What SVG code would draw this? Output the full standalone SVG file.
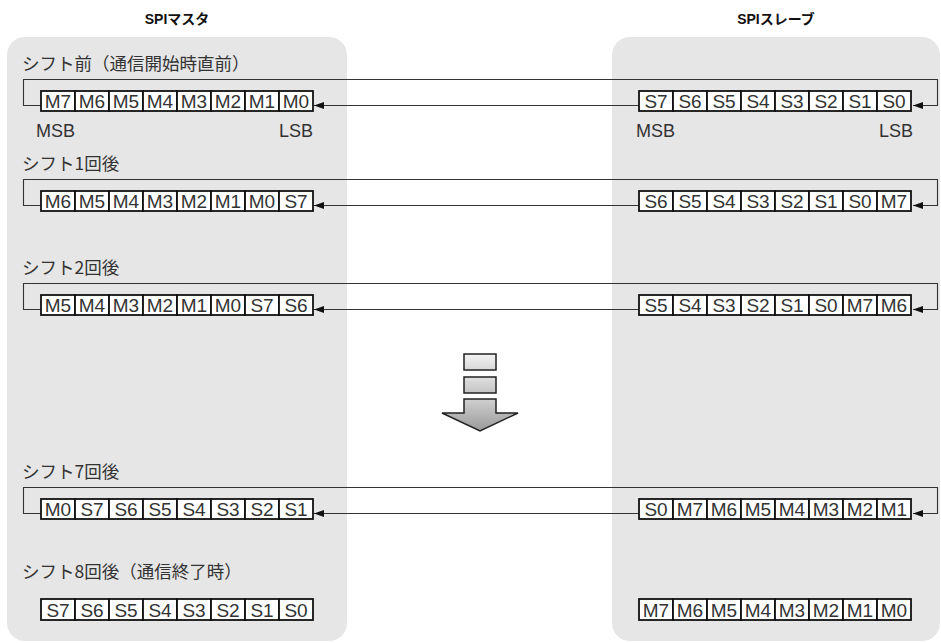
<svg xmlns="http://www.w3.org/2000/svg" width="941" height="643" viewBox="0 0 941 643">
<style>
.panel{fill:#e6e6e6}
.hdr{font-family:"Liberation Sans","Noto Sans CJK JP",sans-serif;font-size:14px;font-weight:bold;fill:#111;text-anchor:middle}
.ttl{font-family:"Noto Sans CJK JP","Liberation Sans",sans-serif;font-size:17.5px;fill:#333}
.cell{fill:#fff;stroke:#111;stroke-width:1.8}
.ct{font-family:"Liberation Sans",sans-serif;font-size:19px;fill:#333;text-anchor:middle}
.bit{font-family:"Liberation Sans",sans-serif;font-size:18px;fill:#333}
.conn{fill:none;stroke:#333;stroke-width:1.1}
.ar{stroke:#222;stroke-width:1.5}
</style>
<defs>
<marker id="ah" markerUnits="userSpaceOnUse" markerWidth="10" markerHeight="7" refX="10" refY="3.5" orient="auto"><path d="M0,0 L10,3.5 L0,7 z" fill="#111"/></marker>
<linearGradient id="g1" x1="0" y1="0" x2="0" y2="1"><stop offset="0" stop-color="#f4f4f4"/><stop offset="1" stop-color="#d8d8d8"/></linearGradient>
<linearGradient id="g2" x1="0" y1="0" x2="0" y2="1"><stop offset="0" stop-color="#e0e0e0"/><stop offset="1" stop-color="#c4c4c4"/></linearGradient>
<linearGradient id="g3" x1="0" y1="0" x2="0" y2="1"><stop offset="0" stop-color="#cfcfcf"/><stop offset="1" stop-color="#9a9a9a"/></linearGradient>
</defs>

<rect class="panel" x="7" y="37" width="340" height="604" rx="18"/>
<rect class="panel" x="612" y="37" width="328" height="604" rx="18"/>

<g id="hdr-master"><text class="hdr" x="177" y="24">SPIマスタ</text></g>
<g id="hdr-slave"><text class="hdr" x="776" y="24">SPIスレーブ</text></g>

<g id="title1"><text class="ttl" x="22" y="69.5">シフト前（通信開始時直前）</text></g>
<g id="title2"><text class="ttl" x="22" y="169.5">シフト1回後</text></g>
<g id="title3"><text class="ttl" x="22" y="273.5">シフト2回後</text></g>
<g id="title7"><text class="ttl" x="22" y="477.5">シフト7回後</text></g>
<g id="title8"><text class="ttl" x="22" y="577.5">シフト8回後（通信終了時）</text></g>

<g id="connectors">
<path class="conn" d="M639,105.5 H314" marker-end="url(#ah)"/>
<path class="conn" d="M41,105.5 H23.5 V79.5 H937.5 V105.5 H913" marker-end="url(#ah)"/>
<path class="conn" d="M639,205.5 H314" marker-end="url(#ah)"/>
<path class="conn" d="M41,205.5 H23.5 V179.5 H937.5 V205.5 H913" marker-end="url(#ah)"/>
<path class="conn" d="M639,309.5 H314" marker-end="url(#ah)"/>
<path class="conn" d="M41,309.5 H23.5 V283.5 H937.5 V309.5 H913" marker-end="url(#ah)"/>
<path class="conn" d="M639,513.5 H314" marker-end="url(#ah)"/>
<path class="conn" d="M41,513.5 H23.5 V487.5 H937.5 V513.5 H913" marker-end="url(#ah)"/>
</g>

<g id="master1" transform="translate(41,91)">
<rect class="cell" x="0" y="0" width="34" height="20"/><rect class="cell" x="34" y="0" width="34" height="20"/><rect class="cell" x="68" y="0" width="34" height="20"/><rect class="cell" x="102" y="0" width="34" height="20"/><rect class="cell" x="136" y="0" width="34" height="20"/><rect class="cell" x="170" y="0" width="34" height="20"/><rect class="cell" x="204" y="0" width="34" height="20"/><rect class="cell" x="238" y="0" width="34" height="20"/>
<text class="ct" x="17" y="17">M7</text><text class="ct" x="51" y="17">M6</text><text class="ct" x="85" y="17">M5</text><text class="ct" x="119" y="17">M4</text><text class="ct" x="153" y="17">M3</text><text class="ct" x="187" y="17">M2</text><text class="ct" x="221" y="17">M1</text><text class="ct" x="255" y="17">M0</text>
</g>
<g id="slave1" transform="translate(639,91)">
<rect class="cell" x="0" y="0" width="34" height="20"/><rect class="cell" x="34" y="0" width="34" height="20"/><rect class="cell" x="68" y="0" width="34" height="20"/><rect class="cell" x="102" y="0" width="34" height="20"/><rect class="cell" x="136" y="0" width="34" height="20"/><rect class="cell" x="170" y="0" width="34" height="20"/><rect class="cell" x="204" y="0" width="34" height="20"/><rect class="cell" x="238" y="0" width="34" height="20"/>
<text class="ct" x="17" y="17">S7</text><text class="ct" x="51" y="17">S6</text><text class="ct" x="85" y="17">S5</text><text class="ct" x="119" y="17">S4</text><text class="ct" x="153" y="17">S3</text><text class="ct" x="187" y="17">S2</text><text class="ct" x="221" y="17">S1</text><text class="ct" x="255" y="17">S0</text>
</g>
<g id="bitlabels">
<text class="bit" x="36" y="137">MSB</text>
<text class="bit" x="313" y="137" text-anchor="end">LSB</text>
<text class="bit" x="636" y="137">MSB</text>
<text class="bit" x="913" y="137" text-anchor="end">LSB</text>
</g>

<g id="master2" transform="translate(41,191)">
<rect class="cell" x="0" y="0" width="34" height="20"/><rect class="cell" x="34" y="0" width="34" height="20"/><rect class="cell" x="68" y="0" width="34" height="20"/><rect class="cell" x="102" y="0" width="34" height="20"/><rect class="cell" x="136" y="0" width="34" height="20"/><rect class="cell" x="170" y="0" width="34" height="20"/><rect class="cell" x="204" y="0" width="34" height="20"/><rect class="cell" x="238" y="0" width="34" height="20"/>
<text class="ct" x="17" y="17">M6</text><text class="ct" x="51" y="17">M5</text><text class="ct" x="85" y="17">M4</text><text class="ct" x="119" y="17">M3</text><text class="ct" x="153" y="17">M2</text><text class="ct" x="187" y="17">M1</text><text class="ct" x="221" y="17">M0</text><text class="ct" x="255" y="17">S7</text>
</g>
<g id="slave2" transform="translate(639,191)">
<rect class="cell" x="0" y="0" width="34" height="20"/><rect class="cell" x="34" y="0" width="34" height="20"/><rect class="cell" x="68" y="0" width="34" height="20"/><rect class="cell" x="102" y="0" width="34" height="20"/><rect class="cell" x="136" y="0" width="34" height="20"/><rect class="cell" x="170" y="0" width="34" height="20"/><rect class="cell" x="204" y="0" width="34" height="20"/><rect class="cell" x="238" y="0" width="34" height="20"/>
<text class="ct" x="17" y="17">S6</text><text class="ct" x="51" y="17">S5</text><text class="ct" x="85" y="17">S4</text><text class="ct" x="119" y="17">S3</text><text class="ct" x="153" y="17">S2</text><text class="ct" x="187" y="17">S1</text><text class="ct" x="221" y="17">S0</text><text class="ct" x="255" y="17">M7</text>
</g>

<g id="master3" transform="translate(41,295)">
<rect class="cell" x="0" y="0" width="34" height="20"/><rect class="cell" x="34" y="0" width="34" height="20"/><rect class="cell" x="68" y="0" width="34" height="20"/><rect class="cell" x="102" y="0" width="34" height="20"/><rect class="cell" x="136" y="0" width="34" height="20"/><rect class="cell" x="170" y="0" width="34" height="20"/><rect class="cell" x="204" y="0" width="34" height="20"/><rect class="cell" x="238" y="0" width="34" height="20"/>
<text class="ct" x="17" y="17">M5</text><text class="ct" x="51" y="17">M4</text><text class="ct" x="85" y="17">M3</text><text class="ct" x="119" y="17">M2</text><text class="ct" x="153" y="17">M1</text><text class="ct" x="187" y="17">M0</text><text class="ct" x="221" y="17">S7</text><text class="ct" x="255" y="17">S6</text>
</g>
<g id="slave3" transform="translate(639,295)">
<rect class="cell" x="0" y="0" width="34" height="20"/><rect class="cell" x="34" y="0" width="34" height="20"/><rect class="cell" x="68" y="0" width="34" height="20"/><rect class="cell" x="102" y="0" width="34" height="20"/><rect class="cell" x="136" y="0" width="34" height="20"/><rect class="cell" x="170" y="0" width="34" height="20"/><rect class="cell" x="204" y="0" width="34" height="20"/><rect class="cell" x="238" y="0" width="34" height="20"/>
<text class="ct" x="17" y="17">S5</text><text class="ct" x="51" y="17">S4</text><text class="ct" x="85" y="17">S3</text><text class="ct" x="119" y="17">S2</text><text class="ct" x="153" y="17">S1</text><text class="ct" x="187" y="17">S0</text><text class="ct" x="221" y="17">M7</text><text class="ct" x="255" y="17">M6</text>
</g>

<g id="progress-arrow">
<rect class="ar" x="464" y="354" width="32" height="16" fill="url(#g1)"/>
<rect class="ar" x="464" y="377" width="32" height="16" fill="url(#g2)"/>
<path class="ar" d="M464,399 H496 V413 H518 L480,431 L442,413 H464 Z" fill="url(#g3)" stroke-linejoin="miter"/>
</g>

<g id="master7" transform="translate(41,499)">
<rect class="cell" x="0" y="0" width="34" height="20"/><rect class="cell" x="34" y="0" width="34" height="20"/><rect class="cell" x="68" y="0" width="34" height="20"/><rect class="cell" x="102" y="0" width="34" height="20"/><rect class="cell" x="136" y="0" width="34" height="20"/><rect class="cell" x="170" y="0" width="34" height="20"/><rect class="cell" x="204" y="0" width="34" height="20"/><rect class="cell" x="238" y="0" width="34" height="20"/>
<text class="ct" x="17" y="17">M0</text><text class="ct" x="51" y="17">S7</text><text class="ct" x="85" y="17">S6</text><text class="ct" x="119" y="17">S5</text><text class="ct" x="153" y="17">S4</text><text class="ct" x="187" y="17">S3</text><text class="ct" x="221" y="17">S2</text><text class="ct" x="255" y="17">S1</text>
</g>
<g id="slave7" transform="translate(639,499)">
<rect class="cell" x="0" y="0" width="34" height="20"/><rect class="cell" x="34" y="0" width="34" height="20"/><rect class="cell" x="68" y="0" width="34" height="20"/><rect class="cell" x="102" y="0" width="34" height="20"/><rect class="cell" x="136" y="0" width="34" height="20"/><rect class="cell" x="170" y="0" width="34" height="20"/><rect class="cell" x="204" y="0" width="34" height="20"/><rect class="cell" x="238" y="0" width="34" height="20"/>
<text class="ct" x="17" y="17">S0</text><text class="ct" x="51" y="17">M7</text><text class="ct" x="85" y="17">M6</text><text class="ct" x="119" y="17">M5</text><text class="ct" x="153" y="17">M4</text><text class="ct" x="187" y="17">M3</text><text class="ct" x="221" y="17">M2</text><text class="ct" x="255" y="17">M1</text>
</g>

<g id="master8" transform="translate(41,599)">
<rect class="cell" x="0" y="0" width="34" height="21"/><rect class="cell" x="34" y="0" width="34" height="21"/><rect class="cell" x="68" y="0" width="34" height="21"/><rect class="cell" x="102" y="0" width="34" height="21"/><rect class="cell" x="136" y="0" width="34" height="21"/><rect class="cell" x="170" y="0" width="34" height="21"/><rect class="cell" x="204" y="0" width="34" height="21"/><rect class="cell" x="238" y="0" width="34" height="21"/>
<text class="ct" x="17" y="18">S7</text><text class="ct" x="51" y="18">S6</text><text class="ct" x="85" y="18">S5</text><text class="ct" x="119" y="18">S4</text><text class="ct" x="153" y="18">S3</text><text class="ct" x="187" y="18">S2</text><text class="ct" x="221" y="18">S1</text><text class="ct" x="255" y="18">S0</text>
</g>
<g id="slave8" transform="translate(639,599)">
<rect class="cell" x="0" y="0" width="34" height="21"/><rect class="cell" x="34" y="0" width="34" height="21"/><rect class="cell" x="68" y="0" width="34" height="21"/><rect class="cell" x="102" y="0" width="34" height="21"/><rect class="cell" x="136" y="0" width="34" height="21"/><rect class="cell" x="170" y="0" width="34" height="21"/><rect class="cell" x="204" y="0" width="34" height="21"/><rect class="cell" x="238" y="0" width="34" height="21"/>
<text class="ct" x="17" y="18">M7</text><text class="ct" x="51" y="18">M6</text><text class="ct" x="85" y="18">M5</text><text class="ct" x="119" y="18">M4</text><text class="ct" x="153" y="18">M3</text><text class="ct" x="187" y="18">M2</text><text class="ct" x="221" y="18">M1</text><text class="ct" x="255" y="18">M0</text>
</g>
</svg>
